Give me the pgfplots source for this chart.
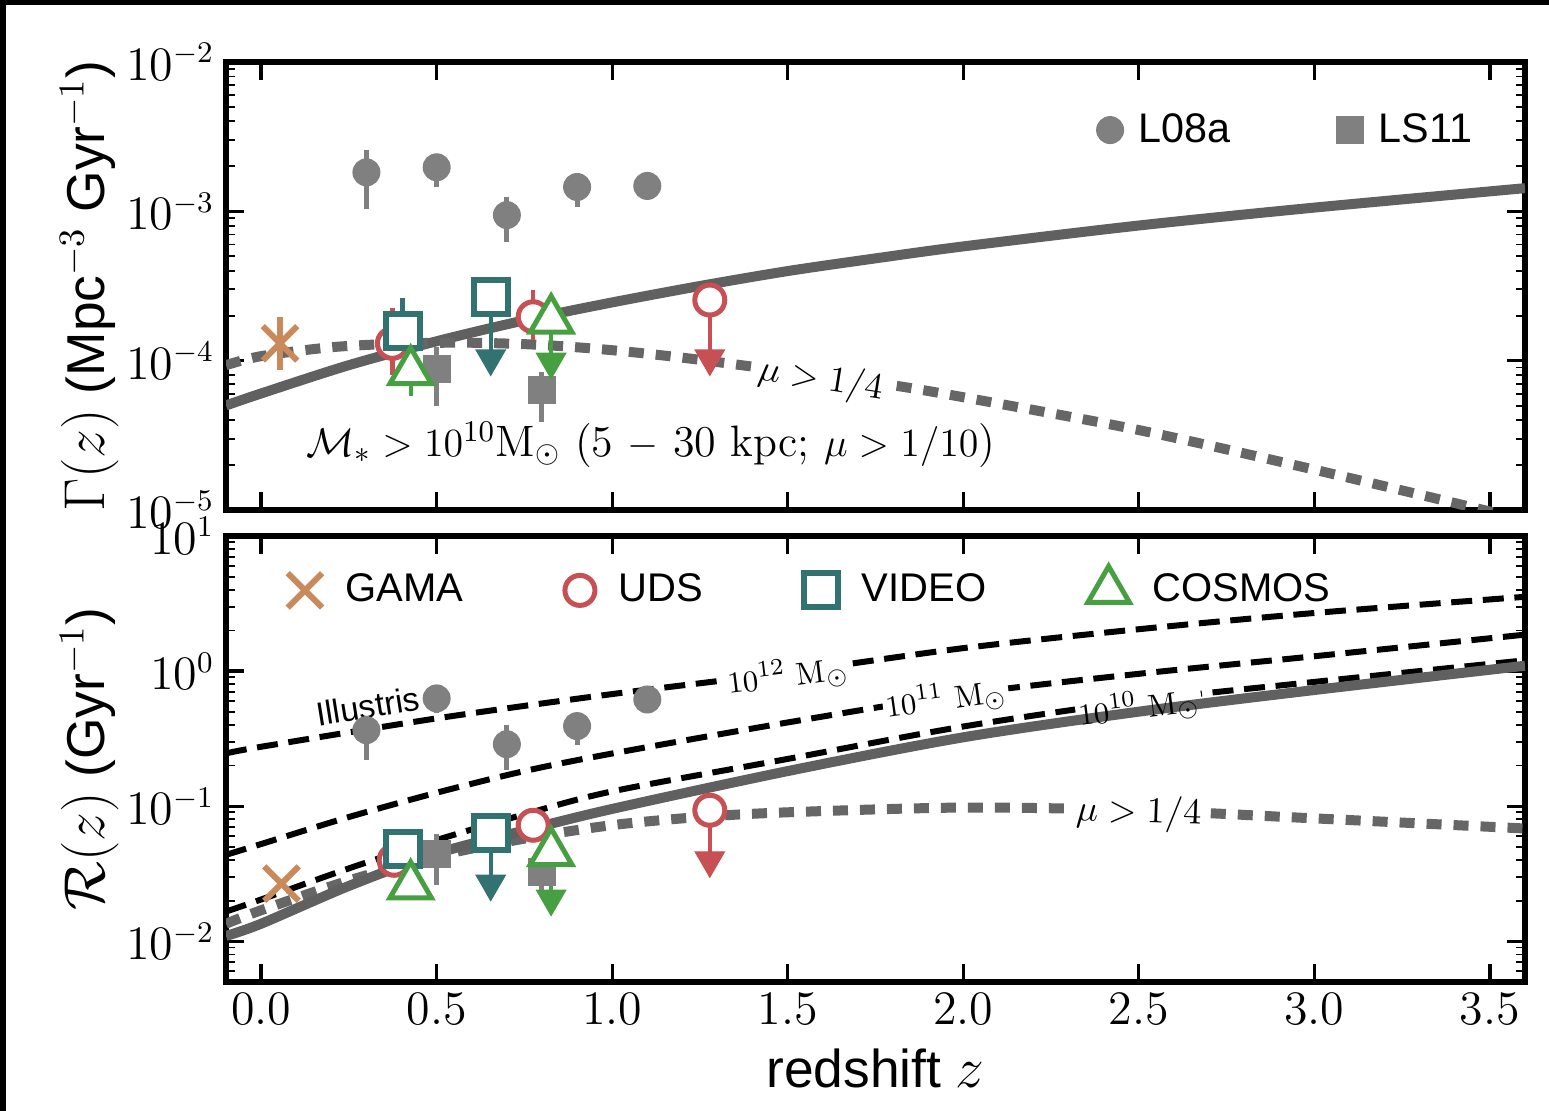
\documentclass[border=0pt]{standalone}
\usepackage{pgfplots}
\pgfplotsset{compat=1.18}
\usepackage{fontspec}
\newfontfamily\sansf{Liberation Sans}
\definecolor{cGAMA}{RGB}{200,138,90}
\definecolor{cUDS}{RGB}{198,80,84}
\definecolor{cVID}{RGB}{50,114,112}
\definecolor{cCOS}{RGB}{70,160,66}
\definecolor{cpt}{RGB}{128,128,128}
\definecolor{cline}{RGB}{96,96,96}
\definecolor{cdot}{RGB}{102,102,102}
\tikzset{
  solidc/.style={cline, line width=3pt, smooth},
  dotc/.style={cdot, line width=3pt, dash pattern=on 4.5pt off 3.6pt, smooth},
  dashc/.style={black, line width=1.8pt, dash pattern=on 6.3pt off 3.2pt, smooth},
}
\begin{document}
\begin{tikzpicture}[x=1pt,y=1pt]
\path[use as bounding box] (0,0) rectangle (464.7,333.3);
\fill[black] (0,331.8) rectangle (464.7,333.3);
\fill[black] (0,0) rectangle (1.9,333.3);

% ---------------- top panel ----------------
\begin{axis}[
  scale only axis, width=389.7pt, height=134.4pt,
  at={(67.8pt,180.3pt)}, anchor=south west,
  xmin=-0.1, xmax=3.6, ymode=log, ymin=1e-5, ymax=1e-2,
  axis line style={line width=1.6pt},
  tick align=inside,
  xtick={0,0.5,1,1.5,2,2.5,3,3.5}, xticklabels={},
  major tick length=5.4pt, minor tick length=2.6pt,
  every major tick/.append style={line width=1pt, black},
  every minor tick/.append style={line width=0.55pt, black},
  tick label style={font=\fontsize{13.5}{15}\selectfont},
  every axis y label/.style={at={(axis description cs:-0.105,0.5)}, rotate=90, anchor=center, font=\sansf\fontsize{16}{19}\selectfont},
  ylabel={$\Gamma(z)$ (Mpc$^{-3}$ Gyr$^{-1}$)},
  legend columns=2,
  legend style={draw=none, fill=none, inner sep=0pt, font=\sansf\fontsize{12.4}{14}\selectfont,
    at={(axis description cs:0.965,0.848)}, anchor=east,
    /tikz/every odd column/.append style={column sep=2.5pt},
    /tikz/every even column/.append style={column sep=30pt}},
]
\addplot[solidc, forget plot] coordinates {(-0.1,5.01e-5) (0,6.03e-5) (0.25,9.33e-5) (0.5,1.349e-4) (0.75,1.862e-4) (1.0,2.455e-4) (1.25,3.162e-4) (1.5,3.981e-4) (1.75,4.842e-4) (2.0,5.821e-4) (2.5,8.035e-4) (3.0,1.059e-3) (3.6,1.429e-3)};
\addplot[dotc, forget plot] coordinates {(-0.1,9.33e-5) (0,1.072e-4) (0.2,1.230e-4) (0.4,1.303e-4) (0.6,1.318e-4) (0.8,1.274e-4) (1.0,1.175e-4) (1.2,1.047e-4) (1.4,9.12e-5) (1.6,7.94e-5) (1.8,6.84e-5) (2.0,5.69e-5) (2.5,3.43e-5) (3.0,1.862e-5) (3.5,9.77e-6) (3.6,8.51e-6)};
\node[rotate=-9, fill=white, inner sep=1pt, font=\fontsize{10.5}{12}\selectfont] at (axis cs:1.594,7.4e-5) {$\mu > 1/4$};

% L08a
\addplot[only marks, forget plot, cpt, mark=*, mark size=4pt,
  error bars/.cd, y dir=both, y explicit, error mark=none, error bar style={line width=1.5pt}]
  table[x=z, y=v, y error plus=ep, y error minus=em] {
z v ep em
0.30 1.824e-3 7.5e-4 7.9e-4
0.50 1.972e-3 2.2e-4 5.1e-4
0.70 9.44e-4 3.0e-4 3.2e-4
0.90 1.455e-3 2.2e-4 3.9e-4
1.10 1.479e-3 1.0e-4 1.5e-4
};
% LS11
\addplot[only marks, forget plot, cpt, mark=square*, mark size=4pt,
  error bars/.cd, y dir=both, y explicit, error mark=none, error bar style={line width=1.5pt}]
  table[x=z, y=v, y error plus=ep, y error minus=em] {
z v ep em
0.50 8.75e-5 3.64e-5 3.78e-5
0.80 6.35e-5 2.08e-5 2.46e-5
};
% GAMA
\addplot[only marks, forget plot, cGAMA, mark=x, mark size=7.3pt, line width=1.8pt,
  error bars/.cd, y dir=both, y explicit, error mark=none, error bar style={line width=1.8pt}]
  table[x=z, y=v, y error plus=ep, y error minus=em] {
z v ep em
0.054 1.306e-4 6.6e-5 4.4e-5
};
% UDS
\addplot[only marks, forget plot, cUDS, mark=*, mark size=4.5pt, mark options={fill=white, line width=1.5pt},
  error bars/.cd, y dir=both, y explicit, error mark=none, error bar style={line width=1.3pt}]
  table[x=z, y=v, y error plus=ep, y error minus=em] {
z v ep em
0.374 1.306e-4 9.3e-5 5.0e-5
0.775 1.968e-4 1.0e-4 5.9e-5
};
\addplot[only marks, forget plot, cUDS, mark=*, mark size=4.5pt, mark options={fill=white, line width=1.5pt},
  error bars/.cd, y dir=minus, y explicit, error mark=none, error bar style={line width=1.2pt}]
  table[x=z, y=v, y error minus=em] {
z v em
1.278 2.547e-4 1.51e-4
};
\addplot[only marks, forget plot, cUDS, mark=triangle*, mark size=5pt, mark options={rotate=180}] coordinates {(1.278,1.035e-4)};
% VIDEO
\addplot[only marks, forget plot, cVID, mark=square*, mark size=5.1pt, mark options={fill=white, line width=1.8pt},
  error bars/.cd, y dir=both, y explicit, error mark=none, error bar style={line width=1.3pt}]
  table[x=z, y=v, y error plus=ep, y error minus=em] {
z v ep em
0.403 1.578e-4 1.03e-4 4.6e-5
};
\addplot[only marks, forget plot, cVID, mark=square*, mark size=5.1pt, mark options={fill=white, line width=1.8pt},
  error bars/.cd, y dir=minus, y explicit, error mark=none, error bar style={line width=1.2pt}]
  table[x=z, y=v, y error minus=em] {
z v em
0.654 2.679e-4 1.644e-4
};
\addplot[only marks, forget plot, cVID, mark=triangle*, mark size=5pt, mark options={rotate=180}] coordinates {(0.654,1.035e-4)};
% COSMOS
\addplot[only marks, forget plot, cCOS, mark=triangle*, mark size=7.2pt, mark options={fill=white, line width=1.5pt},
  error bars/.cd, y dir=both, y explicit, error mark=none, error bar style={line width=1.3pt}]
  table[x=z, y=v, y error plus=ep, y error minus=em] {
z v ep em
0.426 8.43e-5 2.8e-5 2.64e-5
};
\addplot[only marks, forget plot, cCOS, mark=triangle*, mark size=7.2pt, mark options={fill=white, line width=1.5pt},
  error bars/.cd, y dir=minus, y explicit, error mark=none, error bar style={line width=1.2pt}]
  table[x=z, y=v, y error minus=em] {
z v em
0.826 1.871e-4 8.87e-5
};
\addplot[only marks, forget plot, cCOS, mark=triangle*, mark size=5pt, mark options={rotate=180}] coordinates {(0.826,9.84e-5)};

\node[font=\fontsize{13.2}{15}\selectfont] at (axis cs:1.11,2.72e-5) {$\mathcal{M}_* > 10^{10}\mathrm{M}_\odot$ (5 $-$ 30 kpc; $\mu > 1/10$)};

\addlegendimage{only marks, mark=*, mark size=4pt, cpt}
\addlegendentry{L08a}
\addlegendimage{only marks, mark=square*, mark size=4pt, cpt}
\addlegendentry{LS11}
\end{axis}

% ---------------- bottom panel ----------------
\begin{axis}[
  scale only axis, width=389.7pt, height=133.8pt,
  at={(67.8pt,38.7pt)}, anchor=south west,
  xmin=-0.1, xmax=3.6, ymode=log, ymin=5e-3, ymax=10,
  axis line style={line width=1.6pt},
  tick align=inside,
  xtick={0,0.5,1,1.5,2,2.5,3,3.5},
  xticklabel style={/pgf/number format/.cd, fixed, fixed zerofill, precision=1},
  major tick length=5.4pt, minor tick length=2.6pt,
  every major tick/.append style={line width=1pt, black},
  every minor tick/.append style={line width=0.55pt, black},
  tick label style={font=\fontsize{13.5}{15}\selectfont},
  every axis y label/.style={at={(axis description cs:-0.105,0.5)}, rotate=90, anchor=center, font=\sansf\fontsize{16}{19}\selectfont},
  every axis x label/.style={at={(axis description cs:0.5,-0.193)}, anchor=center, font=\sansf\fontsize{16}{19}\selectfont},
  xlabel={redshift $z$},
  ylabel={$\mathcal{R}(z)$ (Gyr$^{-1}$)},
  legend columns=4,
  legend style={draw=none, fill=none, inner sep=0pt, font=\sansf\fontsize{12}{14}\selectfont,
    at={(axis description cs:0.047,0.879)}, anchor=west,
    /tikz/every odd column/.append style={column sep=5pt},
    /tikz/every even column/.append style={column sep=28.5pt}},
]
\addplot[dashc, forget plot] coordinates {(-0.1,0.2455) (0,0.2754) (0.5,0.4467) (1.0,0.6761) (1.5,0.9772) (2.0,1.479) (2.5,2.042) (3.0,2.692) (3.6,3.548)};
\addplot[dashc, forget plot] coordinates {(-0.1,0.04365) (0,0.05248) (0.25,0.08318) (0.5,0.1259) (0.75,0.182) (1.0,0.2455) (1.5,0.4169) (2.0,0.6761) (2.5,0.955) (3.0,1.288) (3.6,1.862)};
\addplot[dashc, forget plot] coordinates {(-0.1,0.0166) (0,0.0204) (0.25,0.03467) (0.5,0.05623) (0.75,0.0871) (1.0,0.1288) (1.5,0.2239) (2.0,0.389) (2.5,0.6026) (3.0,0.8318) (3.6,1.202)};
\node[rotate=7, fill=white, inner sep=0.8pt, font=\fontsize{9.5}{11}\selectfont] at (axis cs:1.50,0.918) {$10^{12}\ \mathrm{M}_\odot$};
\node[rotate=8, fill=white, inner sep=0.8pt, font=\fontsize{9.5}{11}\selectfont] at (axis cs:1.95,0.621) {$10^{11}\ \mathrm{M}_\odot$};
\node[rotate=7, fill=white, inner sep=0.8pt, text opacity=0, font=\fontsize{9.5}{11}\selectfont] at (axis cs:2.50,0.532) {$10^{10}\ \mathrm{M}_\odot$};
\addplot[dotc, forget plot] coordinates {(-0.1,0.01349) (0,0.01698) (0.25,0.02818) (0.5,0.04266) (0.75,0.05754) (1.0,0.07244) (1.25,0.08318) (1.5,0.09016) (2.0,0.09772) (2.5,0.09333) (3.0,0.08128) (3.6,0.0684)};
\addplot[solidc, forget plot] coordinates {(-0.1,0.01096) (0,0.01349) (0.25,0.0257) (0.5,0.04467) (0.75,0.0661) (1.0,0.0955) (1.5,0.182) (2.0,0.3236) (2.5,0.501) (3.0,0.7244) (3.6,1.096)};
\node[rotate=7, inner sep=0.8pt, font=\fontsize{9.5}{11}\selectfont] at (axis cs:2.50,0.532) {$10^{10}\ \mathrm{M}_\odot$};
\node[rotate=-2, fill=white, inner sep=1pt, font=\fontsize{10.5}{12}\selectfont] at (axis cs:2.50,0.0887) {$\mu > 1/4$};
\node[rotate=9, font=\sansf\fontsize{10}{12}\selectfont] at (axis cs:0.304,0.55) {Illustris};

% L08a
\addplot[only marks, forget plot, cpt, mark=*, mark size=4pt,
  error bars/.cd, y dir=both, y explicit, error mark=none, error bar style={line width=1.5pt}]
  table[x=z, y=v, y error plus=ep, y error minus=em] {
z v ep em
0.30 0.3656 0.102 0.146
0.50 0.628 0.08 0.138
0.70 0.2877 0.11 0.103
0.90 0.3917 0.097 0.109
1.10 0.6166 0.04 0.05
};
% LS11
\addplot[only marks, forget plot, cpt, mark=square*, mark size=4pt,
  error bars/.cd, y dir=both, y explicit, error mark=none, error bar style={line width=1.5pt}]
  table[x=z, y=v, y error plus=ep, y error minus=em] {
z v ep em
0.50 0.04457 0.0181 0.01857
0.80 0.03258 0.0121 0.01
};
% GAMA
\addplot[only marks, forget plot, cGAMA, mark=x, mark size=7.3pt, line width=1.8pt] coordinates {(0.058,0.02673)};
% UDS
\addplot[only marks, forget plot, cUDS, mark=*, mark size=4.5pt, mark options={fill=white, line width=1.5pt}] coordinates {(0.379,0.0398) (0.775,0.07228)};
\addplot[only marks, forget plot, cUDS, mark=*, mark size=4.5pt, mark options={fill=white, line width=1.5pt},
  error bars/.cd, y dir=minus, y explicit, error mark=none, error bar style={line width=1.2pt}]
  table[x=z, y=v, y error minus=em] {
z v em
1.278 0.0933 0.0535
};
\addplot[only marks, forget plot, cUDS, mark=triangle*, mark size=5pt, mark options={rotate=180}] coordinates {(1.278,0.0398)};
% VIDEO
\addplot[only marks, forget plot, cVID, mark=square*, mark size=5.1pt, mark options={fill=white, line width=1.8pt}] coordinates {(0.403,0.04853)};
\addplot[only marks, forget plot, cVID, mark=square*, mark size=5.1pt, mark options={fill=white, line width=1.8pt},
  error bars/.cd, y dir=minus, y explicit, error mark=none, error bar style={line width=1.2pt}]
  table[x=z, y=v, y error minus=em] {
z v em
0.654 0.0634 0.03667
};
\addplot[only marks, forget plot, cVID, mark=triangle*, mark size=5pt, mark options={rotate=180}] coordinates {(0.654,0.02673)};
% COSMOS
\addplot[only marks, forget plot, cCOS, mark=triangle*, mark size=7.2pt, mark options={fill=white, line width=1.5pt}] coordinates {(0.426,0.0257)};
\addplot[only marks, forget plot, cCOS, mark=triangle*, mark size=7.2pt, mark options={fill=white, line width=1.5pt},
  error bars/.cd, y dir=minus, y explicit, error mark=none, error bar style={line width=1.2pt}]
  table[x=z, y=v, y error minus=em] {
z v em
0.826 0.04539 0.02469
};
\addplot[only marks, forget plot, cCOS, mark=triangle*, mark size=5pt, mark options={rotate=180}] coordinates {(0.826,0.0207)};

\addlegendimage{only marks, mark=x, mark size=7.3pt, line width=1.8pt, cGAMA}
\addlegendentry{GAMA}
\addlegendimage{only marks, mark=*, mark size=4.5pt, cUDS, mark options={fill=white, line width=1.5pt}}
\addlegendentry{UDS}
\addlegendimage{only marks, mark=square*, mark size=5.1pt, cVID, mark options={fill=white, line width=1.8pt}}
\addlegendentry{VIDEO}
\addlegendimage{only marks, mark=triangle*, mark size=7.2pt, cCOS, mark options={fill=white, line width=1.5pt}}
\addlegendentry{COSMOS}
\end{axis}
\end{tikzpicture}
\end{document}
